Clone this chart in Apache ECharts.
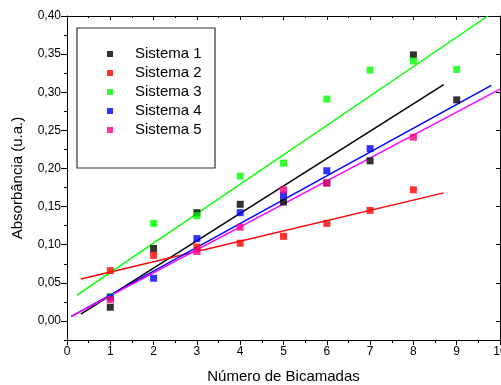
<!DOCTYPE html>
<html><head><meta charset="utf-8">
<script src="https://cdn.jsdelivr.net/npm/echarts@6/dist/echarts.min.js"></script>
<style>html,body{margin:0;padding:0;background:#fff}#c{width:501px;height:385px}</style>
</head><body><div id="c"></div>
<script>
var seriesNames = ['Sistema 1','Sistema 2','Sistema 3','Sistema 4','Sistema 5'];
var s1 = [[1,0.018],[2,0.095],[3,0.142],[4,0.153],[5,0.156],[6,0.181],[7,0.210],[8,0.349],[9,0.290]];
var s2 = [[1,0.066],[2,0.086],[3,0.097],[4,0.102],[5,0.111],[6,0.128],[7,0.145],[8,0.172]];
var s3 = [[1,0.032],[2,0.128],[3,0.138],[4,0.190],[5,0.207],[6,0.291],[7,0.329],[8,0.341],[9,0.330]];
var s4 = [[1,0.031],[2,0.056],[3,0.108],[4,0.142],[5,0.165],[6,0.197],[7,0.226]];
var s5 = [[1,0.028],[3,0.091],[4,0.123],[5,0.172],[6,0.181],[8,0.241]];
// fitted lines (start, end)
var fit1 = [[0.32,0.009],[8.7,0.310]];
var fit2 = [[0.32,0.055],[8.7,0.168]];
var fit3 = [[0.23,0.034],[9.72,0.400]];
var fit4 = [[0.10,0.006],[9.8,0.309]];
var fit5 = [[0.10,0.006],[10,0.304]];
var xTicks = [0,1,2,3,4,5,6,7,8,9,10];
var yTicks = [0,0.05,0.10,0.15,0.20,0.25,0.30,0.35,0.40];
var yMinor = [-0.025,0.025,0.075,0.125,0.175,0.225,0.275,0.325,0.375];
var xName = 'Número de Bicamadas';
var yName = 'Absorbância (u.a.)';

var colors = ['#000000','#ff0000','#00ff00','#0000ff','#ff0080'];
var lineColors = ['#000000','#ff0000','#00ff00','#0000ff','#ff00ff'];
var pts = [s1,s2,s3,s4,s5];
var fits = [fit1,fit2,fit3,fit4,fit5];
var font = 'Liberation Sans, Arial, sans-serif';

var series = [];
for (var i=0;i<5;i++){
  series.push({name:'fit'+i,type:'line',data:fits[i],showSymbol:false,symbol:'none',clip:true,
    lineStyle:{color:lineColors[i],width:1.5},itemStyle:{color:lineColors[i]},z:2,silent:true});
}
for (var i=0;i<5;i++){
  series.push({name:seriesNames[i],type:'scatter',data:pts[i],symbol:'rect',symbolSize:7,
    itemStyle:{color:colors[i]},z:3});
}
var chart = echarts.init(document.getElementById('c'));
chart.setOption({
  animation:false,
  backgroundColor:'#fff',
  grid:{left:67,top:16,width:433,height:324,containLabel:false,outerBoundsMode:'none'},
  legend:{data:seriesNames,orient:'vertical',left:102,top:41,icon:'rect',itemWidth:6,itemHeight:6,itemGap:3,
    textStyle:{fontFamily:font,fontSize:15,color:'#000',padding:[0,0,0,17],lineHeight:16}},
  graphic:[{type:'rect',shape:{x:77,y:28,width:138,height:140},style:{fill:'none',stroke:'#333',lineWidth:1.2},z:10}],
  xAxis:[{type:'value',min:0,max:10,interval:1,position:'bottom',
    name:xName,nameLocation:'middle',nameGap:29,nameTextStyle:{fontFamily:font,fontSize:15,color:'#000'},
    axisLine:{show:true,onZero:false,lineStyle:{color:'#000',width:1}},
    axisTick:{show:true,inside:false,length:5,lineStyle:{color:'#000'}},
    minorTick:{show:true,splitNumber:2,length:3,lineStyle:{color:'#000'}},
    axisLabel:{fontFamily:font,fontSize:12,color:'#000',margin:6,showMaxLabel:true,customValues:xTicks},
    splitLine:{show:false}},
   {type:'value',min:0,max:10,interval:1,position:'top',
    axisLine:{show:true,onZero:false,lineStyle:{color:'#000',width:1}},
    axisTick:{show:true,inside:true,length:4,lineStyle:{color:'#000'}},
    minorTick:{show:true,splitNumber:2,length:2,lineStyle:{color:'#000'}},
    axisLabel:{show:false},splitLine:{show:false}}],
  yAxis:[{type:'value',min:-0.025,max:0.40,position:'left',
    name:yName,nameLocation:'middle',nameGap:42,nameTextStyle:{fontFamily:font,fontSize:15,color:'#000'},
    axisLine:{show:true,onZero:false,lineStyle:{color:'#000',width:1}},
    axisTick:{show:true,inside:false,length:6,customValues:yTicks,lineStyle:{color:'#000'}},
    axisLabel:{fontFamily:font,fontSize:12,color:'#000',margin:6,customValues:yTicks,
      formatter:function(v){return v.toFixed(2).replace('.',',');}},
    splitLine:{show:false}},
   {type:'value',min:-0.025,max:0.40,position:'left',
    axisLine:{show:false},
    axisTick:{show:true,inside:false,length:3,customValues:yMinor,lineStyle:{color:'#000'}},
    axisLabel:{show:false},splitLine:{show:false}},
   {type:'value',min:-0.025,max:0.40,position:'right',
    axisLine:{show:true,onZero:false,lineStyle:{color:'#000',width:1}},
    axisTick:{show:true,inside:true,length:4,customValues:yTicks,lineStyle:{color:'#000'}},
    axisLabel:{show:false},splitLine:{show:false}}],
  series:series
});
</script></body></html>
